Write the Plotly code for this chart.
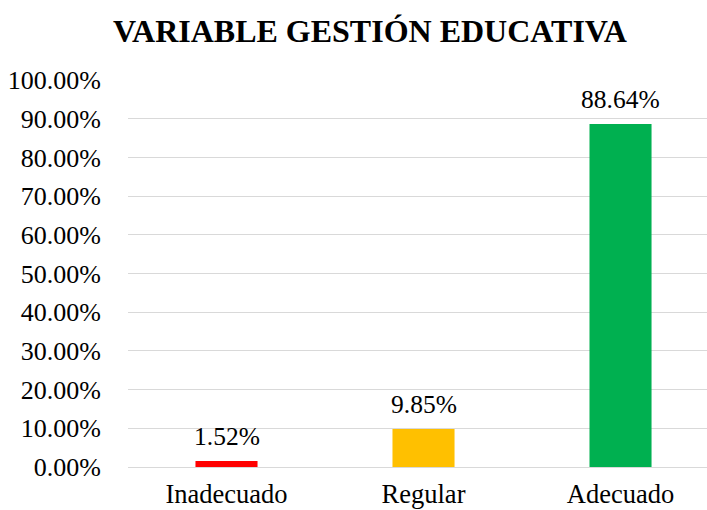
import plotly.graph_objects as go

categories = ["Inadecuado", "Regular", "Adecuado"]
values = [1.52, 9.85, 88.64]
colors = ["#FF0000", "#FFC000", "#00B050"]
tick_vals = [0, 10, 20, 30, 40, 50, 60, 70, 80, 90, 100]
tick_text = [f"{v:.2f}%" for v in tick_vals]

FONT = "Times New Roman"

fig = go.Figure()
fig.add_trace(go.Bar(
    x=list(range(len(categories))),
    y=values,
    marker=dict(color=colors, line=dict(width=0)),
    width=0.315,
    hoverinfo="skip",
))

for i, v in enumerate(values):
    fig.add_annotation(
        x=i, y=v, text=f"{v:.2f}%", showarrow=False,
        yanchor="bottom", yshift=8,
        font=dict(family=FONT, size=25.5, color="#000000"),
    )

fig.update_layout(
    width=707, height=510,
    margin=dict(l=128, r=0, t=80, b=43, autoexpand=False),
    paper_bgcolor="white", plot_bgcolor="white",
    showlegend=False,
    title=dict(
        text="<b>VARIABLE GESTIÓN EDUCATIVA</b>",
        x=370 / 707, xanchor="center", xref="container",
        y=1 - 31 / 510, yanchor="middle", yref="container",
        font=dict(family=FONT, size=32, color="#000000"),
    ),
    font=dict(family=FONT, color="#000000"),
)

fig.update_xaxes(
    range=[-0.5, 2.439],
    tickvals=list(range(len(categories))),
    ticktext=categories,
    tickfont=dict(family=FONT, size=26.5, color="#000000"),
    showgrid=False, zeroline=False, showline=False,
    ticks="", ticklabelstandoff=8, automargin=False,
)
fig.update_yaxes(
    range=[0, 100],
    tickvals=tick_vals,
    ticktext=tick_text,
    tickfont=dict(family=FONT, size=26, color="#000000"),
    showgrid=True, gridcolor="#D9D9D9", gridwidth=1.3,
    zeroline=True, zerolinecolor="#D9D9D9", zerolinewidth=1.3,
    showline=False, ticks="", ticklabelstandoff=26, automargin=False,
)

fig.write_html("out.html", config={"displayModeBar": False},
               post_script="document.body.style.margin='0';")
